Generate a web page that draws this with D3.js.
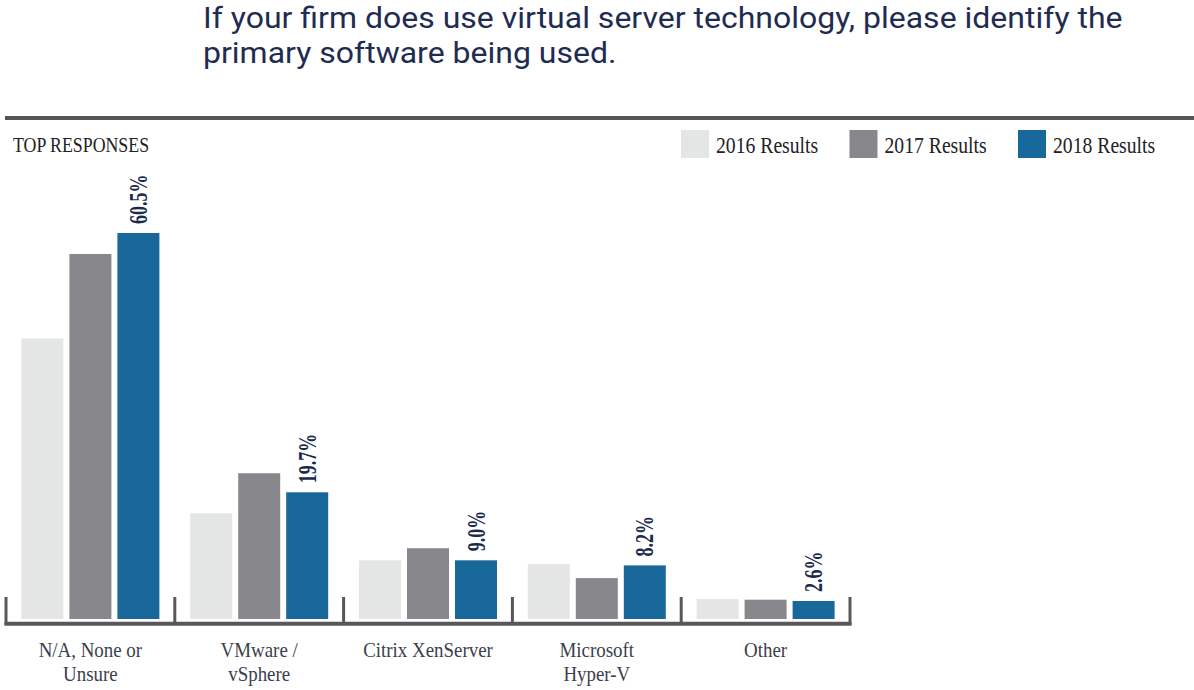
<!DOCTYPE html>
<html>
<head>
<meta charset="utf-8">
<script src="https://cdn.jsdelivr.net/npm/d3@7"></script>
<style>
  html, body { margin: 0; padding: 0; background: #ffffff; }
  svg { display: block; }
</style>
</head>
<body>
<svg id="chart" width="1194" height="690"></svg>
<script>
// ---- data ----
const titleLines = ["If your firm does use virtual server technology, please identify the", "primary software being used."];
const subtitle = "TOP RESPONSES";
const categories = ["N/A, None or\nUnsure", "VMware /\nvSphere", "Citrix XenServer", "Microsoft\nHyper-V", "Other"];
const seriesNames = ["2016 Results", "2017 Results", "2018 Results"];
const values2016 = [43.9, 16.4, 9.0, 8.4, 2.9];
const values2017 = [57.2, 22.7, 10.9, 6.2, 2.8];
const values2018 = [60.5, 19.7, 9.0, 8.2, 2.6];
const labelled2018 = ["60.5%", "19.7%", "9.0%", "8.2%", "2.6%"];
const seriesColors = ["#e4e5e5", "#88888c", "#18689b"];

const series = [values2016, values2017, values2018];
const svg = d3.select("#chart");
const serif = "'Liberation Serif', 'DejaVu Serif', serif";

// ---- title ----
const title = svg.append("g").attr("fill", "#1f2c52")
  .style("font-family", "Roboto, 'Open Sans', sans-serif").style("font-size", "29px");
const t1 = title.append("text").attr("x", 0).attr("y", 0).text(titleLines[0]);
const w1 = t1.node().getComputedTextLength();
const tScale = 920 / w1;
title.selectAll("text").remove();
titleLines.forEach((line, i) => {
  title.append("text")
    .attr("transform", `translate(203,${28 + i * 35}) scale(${tScale},1)`)
    .text(line);
});

// ---- top rule ----
svg.append("line").attr("x1", 5).attr("x2", 1194).attr("y1", 118).attr("y2", 118)
  .attr("stroke", "#555557").attr("stroke-width", 4);

// ---- subtitle ----
svg.append("text")
  .attr("transform", "translate(13,152) scale(0.81,1)")
  .style("font-family", serif).style("font-size", "22px").attr("fill", "#222")
  .text(subtitle);

// ---- legend ----
const legend = svg.append("g").attr("transform", "translate(681,130)");
const lg = legend.selectAll("g").data(seriesNames).join("g")
  .attr("transform", (d, i) => `translate(${i * 168.5},0)`);
lg.append("rect").attr("width", 28).attr("height", 28).attr("fill", (d, i) => seriesColors[i]);
lg.append("text")
  .attr("transform", "translate(35,23) scale(0.82,1)")
  .style("font-family", serif).style("font-size", "24px").attr("fill", "#222")
  .text(d => d);

// ---- scales ----
const x0 = d3.scaleBand().domain(categories).range([6, 850]).paddingInner(0).paddingOuter(0);
const groupPad = 15.4;
const x1 = d3.scaleBand().domain(d3.range(seriesNames.length))
  .range([groupPad, x0.bandwidth() - groupPad]).paddingInner(0.125).paddingOuter(0);
const y = d3.scaleLinear().domain([0, 60.5]).range([617.5, 233]);
const barBottom = 619;

// ---- bars ----
const groups = svg.append("g").selectAll("g").data(categories).join("g")
  .attr("transform", d => `translate(${x0(d)},0)`);
groups.selectAll("rect")
  .data((c, ci) => series.map((s, si) => ({ si, v: s[ci] })))
  .join("rect")
  .attr("x", d => x1(d.si))
  .attr("width", x1.bandwidth())
  .attr("y", d => y(d.v))
  .attr("height", d => barBottom - y(d.v))
  .attr("fill", d => seriesColors[d.si]);

// ---- value labels (2018) ----
svg.append("g").selectAll("text").data(categories).join("text")
  .attr("transform", (c, i) => `translate(${x0(c) + x1(2) + x1.bandwidth() / 2},${y(values2018[i]) - 9}) rotate(-90) scale(0.72,1)`)
  .attr("dy", "0.34em")
  .style("font-family", serif).style("font-size", "25px").style("font-weight", "bold")
  .attr("fill", "#1b2a4c")
  .text((c, i) => labelled2018[i]);

// ---- axis ----
const axis = svg.append("g");
axis.append("line").attr("x1", 4.5).attr("x2", 851.5).attr("y1", 623.7).attr("y2", 623.7)
  .attr("stroke", "#58585a").attr("stroke-width", 4);
const tickXs = categories.map(c => x0(c)).concat([x0.range()[1]]);
axis.selectAll("line.tick").data(tickXs).join("line").attr("class", "tick")
  .attr("x1", d => d).attr("x2", d => d).attr("y1", 597).attr("y2", 625)
  .attr("stroke", "#58585a").attr("stroke-width", 3);

// ---- category labels ----
const cl = svg.append("g").selectAll("text").data(categories).join("text")
  .attr("transform", d => `translate(${x0(d) + x0.bandwidth() / 2},657) scale(0.86,1)`)
  .attr("text-anchor", "middle")
  .style("font-family", serif).style("font-size", "22px").attr("fill", "#3b3e4c");
cl.selectAll("tspan").data(d => d.split("\n")).join("tspan")
  .attr("x", 0).attr("dy", (d, i) => i === 0 ? 0 : 24).text(d => d);
</script>
</body>
</html>
